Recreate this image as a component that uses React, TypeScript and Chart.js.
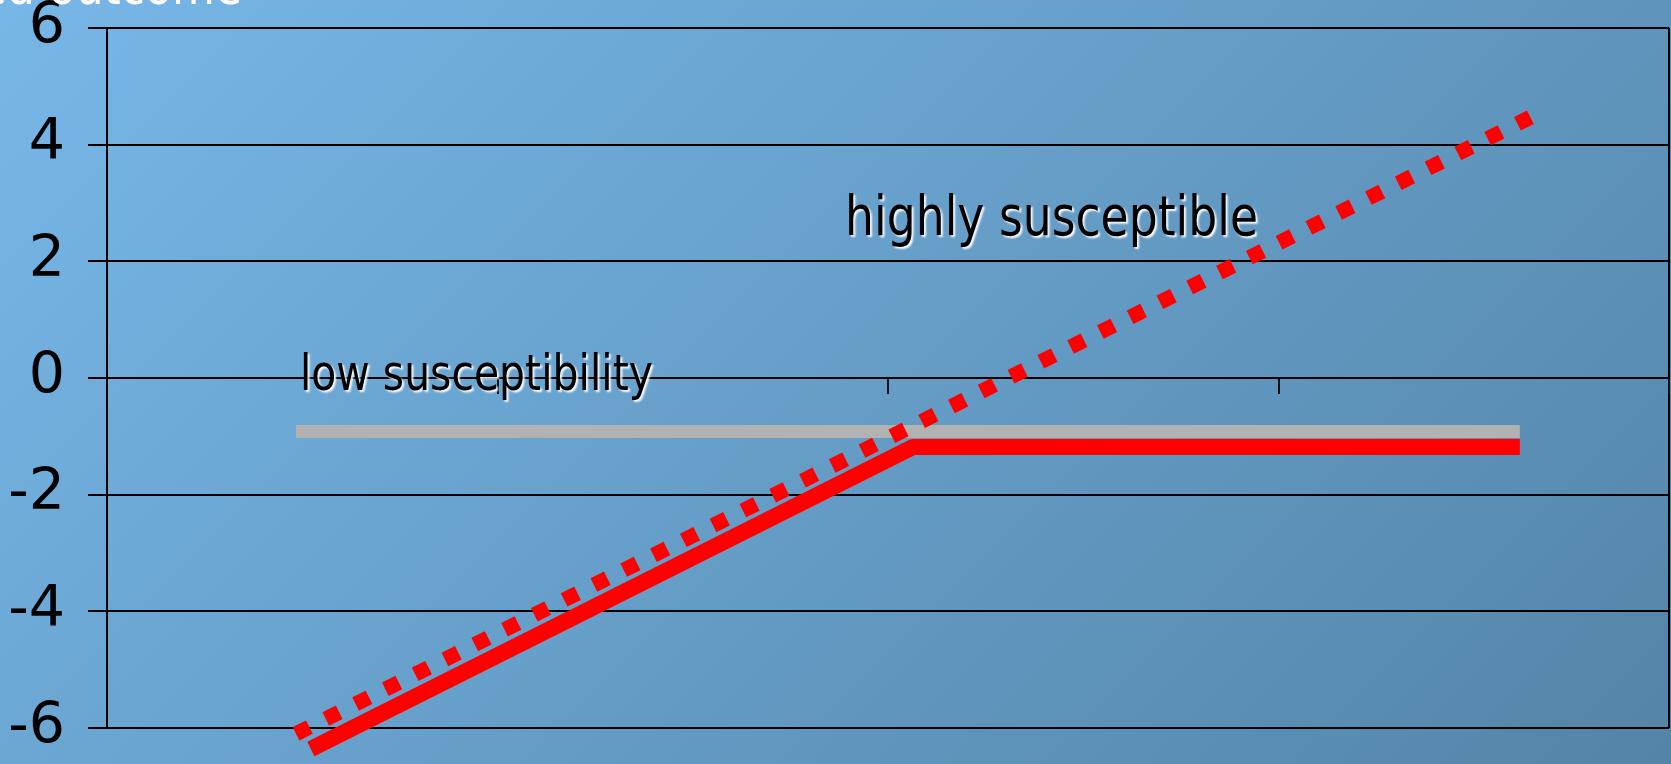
import React, { useEffect, useRef } from 'react';
import { Chart, registerables } from 'chart.js';

Chart.register(...registerables);

// Axis ranges / ticks
const yMin = -6;
const yMax = 6;
const yStep = 2;
const xMin = 0;
const xMax = 4;
const xStep = 1;

// Series: low susceptibility (grey)
const lowX = [0.484, 3.618];
const lowY = [-0.917, -0.917];

// Series: highly susceptible, solid red
const highSolidX = [0.522, 2.064, 3.618];
const highSolidY = [-6.36, -1.183, -1.183];

// Series: highly susceptible, dotted red
const highDottedX = [0.484, 3.645];
const highDottedY = [-6.1, 4.47];

// Text
const lowLabel = 'low susceptibility';
const highLabel = 'highly susceptible';
const axisTitle = 'Predicted outcome';

const zip = (xs: number[], ys: number[]) => xs.map((x, i) => ({ x, y: ys[i] }));

const bgPlugin = {
  id: 'bgGradient',
  beforeDraw(chart: any) {
    const { ctx, width, height } = chart;
    const g = ctx.createLinearGradient(0, 0, 1500, 1500);
    g.addColorStop(0, 'rgb(119,183,232)');
    g.addColorStop(1, 'rgb(76,121,153)');
    ctx.save();
    ctx.fillStyle = g;
    ctx.fillRect(0, 0, width, height);
    ctx.restore();
  },
};

const textPlugin = {
  id: 'labelsText',
  afterDraw(chart: any) {
    const { ctx } = chart;
    const xs = chart.scales.x;
    const ys = chart.scales.y;
    ctx.save();
    ctx.textBaseline = 'alphabetic';
    ctx.textAlign = 'left';
    ctx.fillStyle = '#000';
    ctx.shadowColor = 'rgba(255,255,255,0.95)';
    ctx.shadowOffsetX = 2;
    ctx.shadowOffsetY = 2;
    ctx.shadowBlur = 2;
    ctx.font = '49px "DejaVu Sans"';
    ctx.fillText(lowLabel, xs.getPixelForValue(0.494), ys.getPixelForValue(-0.2), 353);
    ctx.font = '55px "DejaVu Sans"';
    ctx.fillText(highLabel, xs.getPixelForValue(1.89), ys.getPixelForValue(2.45), 413);
    ctx.shadowColor = 'rgba(0,0,0,0)';
    ctx.fillStyle = '#ffffff';
    ctx.textAlign = 'right';
    ctx.font = '50px "DejaVu Sans"';
    ctx.fillText(axisTitle, 242, 4, 414);
    ctx.restore();
  },
};

export default function App() {
  const ref = useRef<HTMLCanvasElement>(null);
  useEffect(() => {
    document.body.style.margin = '0';
    document.documentElement.style.overflow = 'hidden';
    const chart = new Chart(ref.current as HTMLCanvasElement, {
      type: 'line',
      data: {
        datasets: [
          {
            label: 'highly susceptible (dotted)',
            data: zip(highDottedX, highDottedY),
            borderColor: '#ff0000',
            borderWidth: 15,
            borderDash: [15, 18.3],
            borderCapStyle: 'butt',
            pointRadius: 0,
            tension: 0,
            fill: false,
            clip: false,
            order: 0,
          } as any,
          {
            label: 'highly susceptible',
            data: zip(highSolidX, highSolidY),
            borderColor: '#ff0000',
            borderWidth: 16,
            borderJoinStyle: 'bevel',
            borderCapStyle: 'butt',
            pointRadius: 0,
            tension: 0,
            fill: false,
            clip: false,
            order: 1,
          } as any,
          {
            label: 'low susceptibility',
            data: zip(lowX, lowY),
            borderColor: '#b2b2b2',
            borderWidth: 13,
            borderCapStyle: 'butt',
            pointRadius: 0,
            tension: 0,
            fill: false,
            clip: false,
            order: 2,
          } as any,
        ],
      },
      options: {
        animation: false,
        responsive: false,
        devicePixelRatio: 1,
        layout: { padding: { top: 28, right: 2, bottom: 36, left: 0 } },
        plugins: {
          legend: { display: false },
          tooltip: { enabled: false },
        },
        events: [],
        scales: {
          x: {
            type: 'linear',
            min: xMin,
            max: xMax,
            position: { y: 0 } as any,
            ticks: { display: false, stepSize: xStep },
            grid: {
              color: (c: any) => (c.tick && c.tick.value === xMax ? '#000' : 'rgba(0,0,0,0)'),
              lineWidth: 2,
              tickLength: 16,
              tickColor: '#111',
              drawTicks: true,
            },
            border: { display: false },
          },
          y: {
            type: 'linear',
            min: yMin,
            max: yMax,
            ticks: {
              stepSize: yStep,
              color: '#000',
              padding: 23,
              font: { family: '"DejaVu Sans"', size: 57 },
            },
            grid: { color: '#000', lineWidth: 2, tickLength: 19, tickColor: '#000' },
            border: { display: true, color: '#000', width: 2 },
            afterFit: (scale: any) => {
              scale.width = 107;
              scale.paddingTop = 0;
              scale.paddingBottom = 0;
            },
          },
        },
      },
      plugins: [bgPlugin, textPlugin],
    } as any);
    return () => chart.destroy();
  }, []);
  return (
    <div style={{ width: 1671, height: 764 }}>
      <canvas ref={ref} width={1671} height={764} style={{ display: 'block', width: 1671, height: 764 }} />
    </div>
  );
}
